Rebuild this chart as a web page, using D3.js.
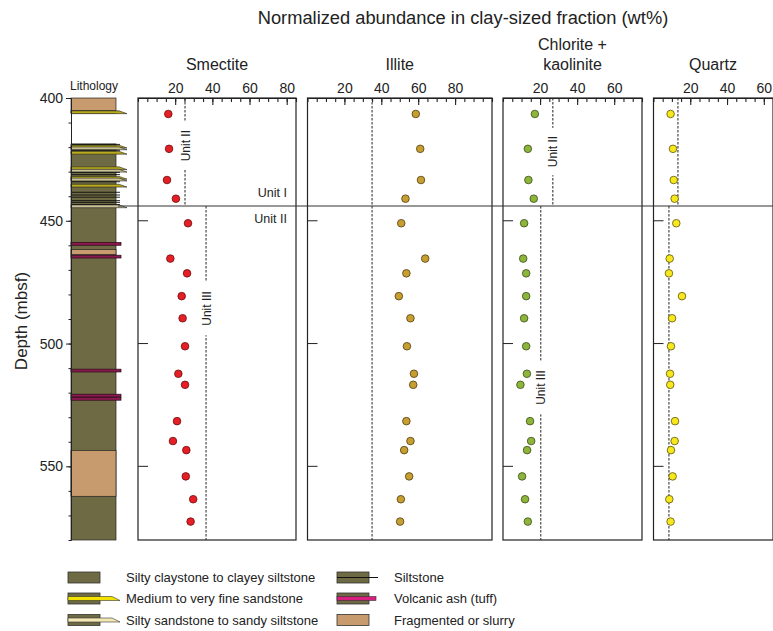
<!DOCTYPE html>
<html>
<head>
<meta charset="utf-8">
<script src="https://cdn.jsdelivr.net/npm/d3@7"></script>
<style>
  body { margin: 0; background: #fff; }
  svg text { font-family: "Liberation Sans", Arial, sans-serif; fill: #222; }
</style>
</head>
<body>
<div id="chart"></div>
<script>
// sample depths (mbsf) and normalized abundances (wt%)
const depths = [406.5, 420.7, 433.4, 441, 451, 465.4, 471.4, 480.7, 489.7, 501.1, 512.3, 516.8, 531.6, 539.7, 543.4, 554.1, 563.4, 572.5];
const smectite = [16.3, 16.7, 15.6, 20.4, 26.9, 17.4, 26.4, 23.5, 24.0, 25.3, 21.7, 25.3, 21.0, 18.8, 26.0, 25.7, 29.7, 28.3];
const illite = [58.7, 61.1, 61.5, 53.1, 50.8, 63.8, 53.6, 49.5, 55.8, 53.9, 57.7, 57.3, 53.6, 55.8, 52.4, 55.1, 50.6, 50.2];
const chlorite = [17.2, 13.4, 13.7, 16.6, 11.4, 10.9, 12.5, 12.5, 11.4, 12.5, 12.9, 9.4, 14.6, 15.2, 13.0, 10.3, 11.9, 13.4];
const quartz = [9.3, 10.6, 11.0, 11.5, 12.4, 8.8, 8.4, 15.5, 10.1, 9.5, 9.0, 9.1, 11.7, 11.5, 9.5, 10.4, 8.6, 9.3];

// unit mean reference lines (upper = Unit I part, lower = Unit II part)
const upperRef = [25.3, 35, 26.9, 13.3];
const lowerRef = [36.6, 35, 20.4, 8.4];
const unitBoundary = 444;

const depthDomain = [400, 580];
const depthMajor = [400, 450, 500, 550];

// lithology column: blocks [top, bottom, type] and thin beds [depth, type]
const lithoBlocks = [[400, 405.2, "frag"], [405.2, 406.3, "clay"], [418.7, 580, "clay"], [461.7, 463.8, "frag"], [543.5, 562.2, "frag"]];
const thinBeds = [
  [405.8, "sand"], [418.9, "silt"], [419.8, "sand"], [420.5, "siltysand"], [421.3, "silt"], [422.3, "sand"],
  [428.6, "sand"], [429.6, "siltysand"], [430.3, "silt"], [431.2, "silt"], [432.5, "sand"], [433.2, "siltysand"],
  [434.1, "silt"], [435.7, "sand"], [438.4, "silt"], [439.5, "silt"], [440.4, "silt"], [441.8, "silt"],
  [442.5, "silt"], [443.4, "silt"], [444.1, "siltysand"],
  [459.4, "ash"], [464.6, "ash"], [511, "ash"], [521.2, "ash"], [522.5, "ash"]
];

const legendLeft = ["Silty claystone to clayey siltstone", "Medium to very fine sandstone", "Silty sandstone to sandy siltstone"];
const legendRight = ["Siltstone", "Volcanic ash (tuff)", "Fragmented or slurry"];

const width = 773, height = 631;
const plotTop = 98, plotBottom = 540;
const colX0 = 71, colX1 = 116;

const litColor = { clay: "#6e6a43", frag: "#c89b6e", sand: "#f3e200", siltysand: "#f3e8b4", ash: "#d81f7f" };

const panels = [
  { title: ["Smectite"], vals: smectite, max: 85, range: [138, 296], fill: "#e51f25", stroke: "#6b0d0d",
    upLabel: 419.4, lowLabel: 485.7 },
  { title: ["Illite"], vals: illite, max: 100, range: [307.5, 492], fill: "#c79e30", stroke: "#4f3c12" },
  { title: ["Chlorite +", "kaolinite"], vals: chlorite, max: 75, range: [503, 642], fill: "#8db43b", stroke: "#3b4d1a",
    upLabel: 421.8, lowLabel: 517.9 },
  { title: ["Quartz"], vals: quartz, max: 65, range: [653.5, 773], fill: "#f6e81d", stroke: "#5e560e" }
];

const svg = d3.select("#chart").append("svg")
  .attr("width", width)
  .attr("height", height);

const y = d3.scaleLinear().domain(depthDomain).range([plotTop, plotBottom]);

// titles
svg.append("text")
  .attr("x", 463).attr("y", 24)
  .attr("text-anchor", "middle")
  .style("font-size", "18.3px")
  .text("Normalized abundance in clay-sized fraction (wt%)");

svg.append("text")
  .attr("transform", `translate(27,${(plotTop + plotBottom) / 2 + 2}) rotate(-90)`)
  .attr("text-anchor", "middle")
  .style("font-size", "17px")
  .text("Depth (mbsf)");

svg.append("text")
  .attr("x", 94).attr("y", 90)
  .attr("text-anchor", "middle")
  .style("font-size", "12px")
  .text("Lithology");

// lithology column
const lith = svg.append("g");
lithoBlocks.forEach(b => {
  lith.append("rect")
    .attr("x", colX0).attr("y", y(b[0]))
    .attr("width", colX1 - colX0).attr("height", y(b[1]) - y(b[0]))
    .attr("fill", litColor[b[2]])
    .attr("stroke", "#222").attr("stroke-width", 0.7);
});

thinBeds.forEach(b => {
  const yc = y(b[0]);
  if (b[1] === "silt") {
    lith.append("line")
      .attr("x1", colX0).attr("x2", colX1 + 4)
      .attr("y1", yc).attr("y2", yc)
      .attr("stroke", "#111").attr("stroke-width", 0.9);
  } else if (b[1] === "ash") {
    lith.append("rect")
      .attr("x", colX0).attr("y", yc - 1.4)
      .attr("width", colX1 - colX0 + 5).attr("height", 2.8)
      .attr("fill", "#8a1a50")
      .attr("stroke", "#2a0a18").attr("stroke-width", 0.7);
  } else {
    const h = 1.4;
    lith.append("path")
      .attr("d", `M${colX0},${yc - h} L${colX1 + 3},${yc - h} L${colX1 + 11},${yc + h} L${colX0},${yc + h} Z`)
      .attr("fill", b[1] === "sand" ? "#b9ab1c" : "#c9c196")
      .attr("stroke", "#222").attr("stroke-width", 0.6);
  }
});

// depth axis
const minorAxis = d3.axisLeft(y).tickValues(d3.range(400, 581, 10)).tickSize(2.5).tickSizeOuter(0).tickFormat("");
const majorAxis = d3.axisLeft(y).tickValues(depthMajor).tickSize(5).tickSizeOuter(0).tickPadding(3);
svg.append("g").attr("transform", `translate(${colX0},0)`).call(minorAxis);
const dAx = svg.append("g").attr("transform", `translate(${colX0},0)`).call(majorAxis);
dAx.selectAll("text").style("font-size", "14px").attr("fill", "#222");
svg.selectAll(".domain, .tick line").attr("stroke", "#222");

// mineral panels
panels.forEach((p, i) => {
  const x = d3.scaleLinear().domain([0, p.max]).range(p.range);
  const g = svg.append("g");

  g.append("rect")
    .attr("x", p.range[0]).attr("y", plotTop)
    .attr("width", p.range[1] - p.range[0]).attr("height", plotBottom - plotTop)
    .attr("fill", "none").attr("stroke", "#222").attr("stroke-width", 1.2);

  const cx = (p.range[0] + Math.min(p.range[1], 773)) / 2;
  p.title.forEach((t, k) => {
    g.append("text")
      .attr("x", i === 3 ? 713 : cx)
      .attr("y", 70 - (p.title.length - 1 - k) * 20)
      .attr("text-anchor", "middle")
      .style("font-size", "16px")
      .text(t);
  });

  const minor = d3.axisTop(x).tickValues(d3.range(0, p.max + 0.1, 5)).tickSizeInner(-4).tickSizeOuter(0).tickFormat("");
  const major = d3.axisTop(x).tickValues([20, 40, 60, 80].filter(v => v < p.max)).tickSizeInner(-7).tickSizeOuter(0).tickPadding(5);
  g.append("g").attr("transform", `translate(0,${plotTop})`).call(minor);
  const ax = g.append("g").attr("transform", `translate(0,${plotTop})`).call(major);
  ax.selectAll("text").style("font-size", "14px").attr("fill", "#222");
  g.selectAll(".domain, .tick line").attr("stroke", "#222").attr("stroke-width", 1.1);

  // depth ticks inside panel
  g.selectAll(".dtick")
    .data(depthMajor.slice(1))
    .join("line")
    .attr("x1", p.range[0]).attr("x2", p.range[0] + 10)
    .attr("y1", d => y(d)).attr("y2", d => y(d))
    .attr("stroke", "#222");

  // unit mean dashed lines
  const dash = [[depthDomain[0], unitBoundary, upperRef[i]], [unitBoundary, depthDomain[1], lowerRef[i]]];
  dash.forEach(d => {
    g.append("line")
      .attr("x1", x(d[2])).attr("x2", x(d[2]))
      .attr("y1", y(d[0])).attr("y2", y(d[1]))
      .attr("stroke", "#222").attr("stroke-width", 1)
      .attr("stroke-dasharray", "2.5,1.5");
  });

  const rotLabel = (xv, depth, txt) => {
    const lg = g.append("g").attr("transform", `translate(${x(xv)},${y(depth)}) rotate(-90)`);
    const tw = txt.length * 6.2;
    lg.append("rect").attr("x", -tw / 2 - 2).attr("y", -6).attr("width", tw + 4).attr("height", 12).attr("fill", "#fff");
    lg.append("text").attr("y", 4.5).attr("text-anchor", "middle").style("font-size", "12px").text(txt);
  };
  if (p.upLabel) rotLabel(upperRef[i], p.upLabel, "Unit II");
  if (p.lowLabel) rotLabel(lowerRef[i], p.lowLabel, "Unit III");

  g.selectAll("circle")
    .data(p.vals)
    .join("circle")
    .attr("cx", d => x(d))
    .attr("cy", (d, j) => y(depths[j]))
    .attr("r", 3.8)
    .attr("fill", p.fill)
    .attr("stroke", p.stroke)
    .attr("stroke-width", 0.8);
});

// unit boundary
svg.append("line")
  .attr("x1", colX1 + 2).attr("x2", width)
  .attr("y1", y(unitBoundary)).attr("y2", y(unitBoundary))
  .attr("stroke", "#333").attr("stroke-width", 1.1);

svg.append("text").attr("x", 287).attr("y", y(unitBoundary) - 9).attr("text-anchor", "end")
  .style("font-size", "12.5px").text("Unit I");
svg.append("text").attr("x", 287).attr("y", y(unitBoundary) + 17).attr("text-anchor", "end")
  .style("font-size", "12.5px").text("Unit II");

// legend
const leg = svg.append("g");
const rowY = [577.5, 598.5, 620];
const drawBase = (x0, yc, fill) => leg.append("rect")
  .attr("x", x0).attr("y", yc - 5.5).attr("width", 32).attr("height", 11)
  .attr("fill", fill).attr("stroke", "#333").attr("stroke-width", 0.8);
const drawWedge = (x0, yc, fill) => leg.append("path")
  .attr("d", `M${x0},${yc - 2} L${x0 + 44},${yc - 2} L${x0 + 52},${yc + 2} L${x0},${yc + 2} Z`)
  .attr("fill", fill).attr("stroke", "#333").attr("stroke-width", 0.6);

legendLeft.forEach((t, k) => {
  const yc = rowY[k];
  drawBase(68, yc, litColor.clay);
  if (k === 1) drawWedge(68, yc, litColor.sand);
  if (k === 2) drawWedge(68, yc, litColor.siltysand);
  leg.append("text").attr("x", 126).attr("y", yc + 4.5).style("font-size", "13px").text(t);
});

legendRight.forEach((t, k) => {
  const yc = rowY[k];
  drawBase(337, yc, k === 2 ? litColor.frag : litColor.clay);
  if (k === 0) {
    leg.append("line").attr("x1", 337).attr("x2", 378).attr("y1", yc).attr("y2", yc)
      .attr("stroke", "#111").attr("stroke-width", 1);
  }
  if (k === 1) {
    leg.append("rect").attr("x", 337).attr("y", yc - 2).attr("width", 39).attr("height", 4)
      .attr("fill", litColor.ash).attr("stroke", "#333").attr("stroke-width", 0.6);
  }
  leg.append("text").attr("x", 394).attr("y", yc + 4.5).style("font-size", "13px").text(t);
});
</script>
</body>
</html>
